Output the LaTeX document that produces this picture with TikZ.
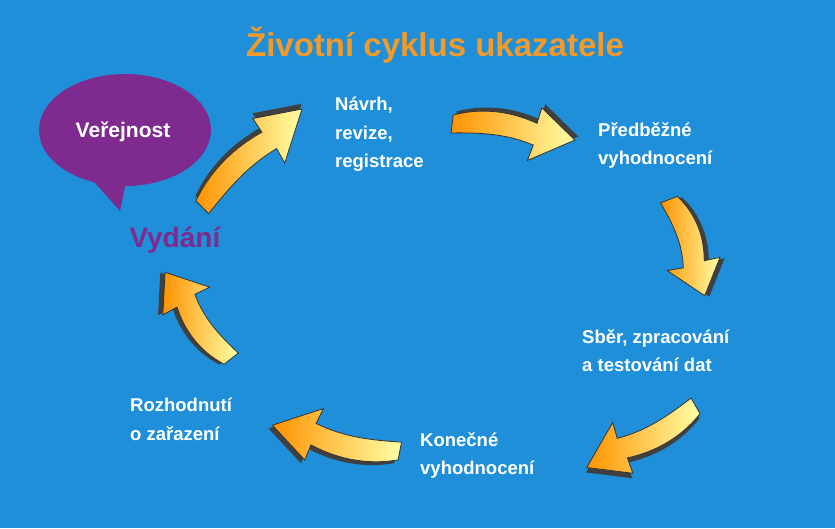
\documentclass[tikz,border=0pt]{standalone}
\usepackage{fontspec}
\setmainfont{Liberation Sans}
\usetikzlibrary{shapes.geometric}
\definecolor{bg}{HTML}{1E8FD8}
\definecolor{ttl}{HTML}{F39A2A}
\definecolor{purp}{HTML}{7E2A8E}
\tikzset{
  lbl/.style={text=white,font=\bfseries\fontsize{18.5}{28.5}\selectfont,align=left,anchor=north west,inner sep=0pt},
  pics/bigarrow/.style={code={
    \def\arrowpath{(0,-10) .. controls (30,-22) and (60,-20) .. (85,-12) -- (88,-28) -- (125,0) -- (80,26) -- (84,10) .. controls (55,2) and (30,4) .. (0,8) -- cycle}
    \fill[black!75,shift={(3,-4)}] \arrowpath;
    \shade[left color=orange!85!yellow,right color=yellow!35!white,draw=black!80,line width=0.8pt] \arrowpath;
  }}
}
\begin{document}
\begin{tikzpicture}[x=1pt,y=-1pt]
\fill[bg] (0,0) rectangle (835,528);
\node[text=ttl,font=\bfseries\fontsize{33}{38}\selectfont] (title) at (435,45) {Životní cyklus ukazatele};
% bubble
\fill[purp] (88,175) -- (120,211) -- (126,182) -- cycle;
\node[fill=purp,ellipse,minimum width=172,minimum height=112,inner sep=0pt] (bubble) at (125,130) {};
\node[text=white,font=\bfseries\fontsize{21}{24}\selectfont] (verej) at (123,132) {Veřejnost};
\node[text=purp,font=\bfseries\fontsize{28}{32}\selectfont,anchor=west] (vyd) at (126,240) {Vydání};
% labels
\node[lbl] (navrh) at (335,97) {Návrh,\\revize,\\registrace};
\node[lbl] (pred) at (598,122) {Předběžné\\vyhodnocení};
\node[lbl] (sber) at (582,329) {Sběr, zpracování\\a testování dat};
\node[lbl] (kon) at (420,432) {Konečné\\vyhodnocení};
\node[lbl] (roz) at (130,398) {Rozhodnutí\\o zařazení};
% arrows
\pic[rotate=-7,xscale=0.99] at (452,125) {bigarrow};
\pic[rotate=-69,xscale=0.82] at (668,200) {bigarrow};
\pic[rotate=-150,xscale=1.0] at (695,405) {bigarrow};
\pic[rotate=169,xscale=1.04] at (400,450) {bigarrow};
\pic[rotate=128,xscale=0.87] at (232,358) {bigarrow};
\pic[rotate=45,xscale=1.12] at (203,208) {bigarrow};
\end{tikzpicture}
\end{document}
